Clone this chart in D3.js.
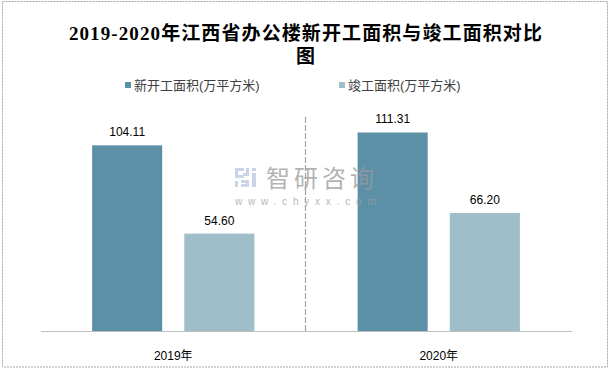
<!DOCTYPE html>
<html>
<head>
<meta charset="utf-8">
<script src="https://cdn.jsdelivr.net/npm/d3@7"></script>
<style>
  body { margin: 0; background: #fff; }
  svg { display: block; }
</style>
</head>
<body>
<svg width="611" height="370"></svg>
<script>
const years = ["2019年", "2020年"];
const series = ["新开工面积(万平方米)", "竣工面积(万平方米)"];
const newStart = [104.11, 111.31];
const completed = [54.60, 66.20];
const colors = ["#5b90a6", "#a0bdca"];

const svg = d3.select("svg"),
	width = +svg.attr("width"),
	height = +svg.attr("height");

const sans = "'Liberation Sans', 'Noto Sans CJK SC', sans-serif";

// outer frame
svg.append("rect")
	.attr("x", 2.5).attr("y", 1.5)
	.attr("width", 605).attr("height", 365.5)
	.attr("fill", "none")
	.attr("stroke", "#a6a6a6")
	.attr("stroke-dasharray", "2,1");

// title
const title = svg.append("text")
	.attr("text-anchor", "middle")
	.style("font-family", "'Liberation Serif', 'Noto Sans CJK SC', serif")
	.style("font-weight", "bold")
	.style("font-size", "19px")
	.style("letter-spacing", "1.1px")
	.attr("fill", "#000");
title.append("tspan").attr("x", 306).attr("y", 40).text("2019-2020年江西省办公楼新开工面积与竣工面积对比");
title.append("tspan").attr("x", 306).attr("y", 63).text("图");

// legend
const legendX = [125, 339];
const legend = svg.selectAll(".legend")
	.data(series)
	.join("g")
	.attr("class", "legend")
	.attr("transform", (d, i) => `translate(${legendX[i]}, 82)`);
legend.append("rect")
	.attr("width", 6).attr("height", 6)
	.attr("fill", (d, i) => colors[i]);
legend.append("text")
	.attr("x", 9).attr("y", 8)
	.style("font-family", sans)
	.style("font-size", "13px")
	.attr("fill", "#404040")
	.text(d => d);

// scales
const x0 = d3.scaleBand()
	.domain(years)
	.range([40.5, 571.5]);

const x1 = d3.scaleBand()
	.domain(series)
	.range([0, x0.bandwidth()])
	.paddingInner(0.24)
	.paddingOuter(0.56);

const y = d3.scaleLinear()
	.domain([0, 120])
	.range([331, 117]);

const rows = years.map((yr, i) => ({
	year: yr,
	values: [
		{ key: series[0], value: newStart[i], c: colors[0] },
		{ key: series[1], value: completed[i], c: colors[1] }
	]
}));

// separator between categories
svg.append("line")
	.attr("x1", x0(years[1]) - 0.5).attr("x2", x0(years[1]) - 0.5)
	.attr("y1", y(120)).attr("y2", y(0))
	.attr("stroke", "#a6a6a6")
	.attr("stroke-width", 1.2)
	.attr("stroke-dasharray", "6,2");

const groups = svg.selectAll(".grp")
	.data(rows)
	.join("g")
	.attr("class", "grp")
	.attr("transform", d => `translate(${x0(d.year)}, 0)`);

groups.selectAll("rect")
	.data(d => d.values)
	.join("rect")
	.attr("x", d => x1(d.key))
	.attr("y", d => y(d.value))
	.attr("width", x1.bandwidth())
	.attr("height", d => y(0) - y(d.value))
	.attr("fill", d => d.c);

groups.selectAll(".lbl")
	.data(d => d.values)
	.join("text")
	.attr("class", "lbl")
	.attr("x", d => x1(d.key) + x1.bandwidth() / 2)
	.attr("y", d => y(d.value) - 9)
	.attr("text-anchor", "middle")
	.style("font-family", sans)
	.style("font-size", "12px")
	.attr("fill", "#000")
	.text(d => d.value.toFixed(2));

// baseline + category labels
const xAxis = svg.append("g")
	.attr("transform", `translate(0, ${y(0)})`)
	.call(d3.axisBottom(x0).tickSize(0).tickPadding(20));
xAxis.select(".domain").attr("stroke", "#bfbfbf");
xAxis.selectAll("text")
	.style("font-family", sans)
	.style("font-size", "12px")
	.attr("fill", "#000");

// watermark
const wm = svg.append("g").attr("opacity", 0.75);
wm.append("path")
	.attr("d", "M235,168h9v3h-6v4h6v3h-9z M235,181h3v6h-3z M246,168h3v8h-6v-3h3z M241,180h8v7h-8v-3h5v-1h-5z M252,168h4v3h-4z M252,173h4v14h-4z")
	.attr("fill", "#b8c8e2");
wm.append("text")
	.attr("x", 266).attr("y", 187)
	.style("font-family", "'Noto Sans CJK SC', sans-serif")
	.style("font-size", "24px")
	.style("letter-spacing", "4px")
	.attr("fill", "#9a9a9a")
	.text("智研咨询");
wm.append("text")
	.attr("x", 235).attr("y", 205)
	.style("font-family", sans)
	.style("font-size", "10px")
	.style("letter-spacing", "5.8px")
	.attr("fill", "#a0a0a0")
	.text("www.chyxx.com");
</script>
</body>
</html>
